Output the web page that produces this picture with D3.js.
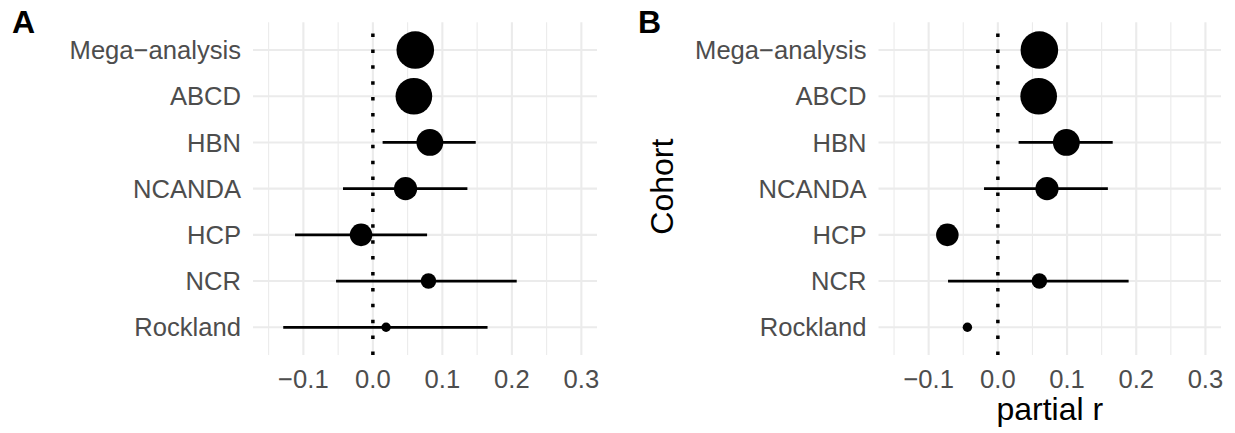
<!DOCTYPE html>
<html>
<head>
<meta charset="utf-8">
<script src="https://cdn.jsdelivr.net/npm/d3@7"></script>
<style>
  html, body { margin: 0; padding: 0; background: #fff; }
  svg { display: block; font-family: "Liberation Sans", Arial, Helvetica, sans-serif; }
</style>
</head>
<body>
<svg id="chart" width="1235" height="433"></svg>
<script>
// Cohorts, top to bottom
const cohorts = ["Mega-analysis", "ABCD", "HBN", "NCANDA", "HCP", "NCR", "Rockland"];
// Relative weight of each cohort (drives point area)
const weight = [100, 95, 51, 38, 36, 17, 6.3];

// Panel A: partial r with confidence interval
const estA  = [0.061, 0.059, 0.082, 0.047, -0.017, 0.080, 0.019];
const lowA  = [0.047, 0.045, 0.014, -0.043, -0.112, -0.053, -0.129];
const highA = [0.075, 0.073, 0.148, 0.136, 0.078, 0.207, 0.165];

// Panel B: partial r with confidence interval (missing where not estimated)
const estB  = [0.060, 0.059, 0.099, 0.071, -0.073, 0.060, -0.044];
const lowB  = [0.046, 0.045, 0.030, -0.020, null, -0.072, null];
const highB = [0.074, 0.073, 0.166, 0.159, null, 0.189, null];

const xMajor = [-0.1, 0.0, 0.1, 0.2, 0.3];
const xMinor = [-0.15, -0.05, 0.05, 0.15, 0.25];
const xLimits = [-0.15, 0.3];

const svg = d3.select("#chart");
const fmt = d3.format(".1f");

const panelTop = 22.3, panelBottom = 355;
const y = d3.scalePoint().domain(cohorts).range([panelTop, panelBottom]).padding(0.6);
const r = d3.scaleSqrt().domain([0, d3.max(weight)]).range([0, 18.8]);

const span = xLimits[1] - xLimits[0];
const xDomain = [xLimits[0] - 0.05 * span, xLimits[1] + 0.05 * span];

function panel(opts) {
  const { left, right, est, low, high, tag, tagX, showTitles } = opts;
  const x = d3.scaleLinear().domain(xDomain).range([left, right]);
  const g = svg.append("g");

  // grid
  g.selectAll(".minor").data(xMinor).join("line")
    .attr("x1", d => x(d)).attr("x2", d => x(d))
    .attr("y1", panelTop).attr("y2", panelBottom)
    .attr("stroke", "#EBEBEB").attr("stroke-width", 1.1);
  g.selectAll(".major").data(xMajor).join("line")
    .attr("x1", d => x(d)).attr("x2", d => x(d))
    .attr("y1", panelTop).attr("y2", panelBottom)
    .attr("stroke", "#EBEBEB").attr("stroke-width", 2.1);
  g.selectAll(".hgrid").data(cohorts).join("line")
    .attr("x1", left).attr("x2", right)
    .attr("y1", d => y(d)).attr("y2", d => y(d))
    .attr("stroke", "#EBEBEB").attr("stroke-width", 2.1);

  // reference line at zero, drawn upward from the bottom
  g.append("line")
    .attr("x1", x(0)).attr("x2", x(0))
    .attr("y1", panelBottom).attr("y2", panelTop)
    .attr("stroke", "#000").attr("stroke-width", 3.5)
    .attr("stroke-dasharray", "3.5 12.4");

  const rows = cohorts.map((c, i) => ({ c, est: est[i], low: low[i], high: high[i], w: weight[i] }));

  // intervals
  g.selectAll(".ci").data(rows.filter(d => d.low != null && d.high != null)).join("line")
    .attr("x1", d => x(d.low)).attr("x2", d => x(d.high))
    .attr("y1", d => y(d.c)).attr("y2", d => y(d.c))
    .attr("stroke", "#000").attr("stroke-width", 2.7);

  // point estimates
  g.selectAll(".pt").data(rows).join("circle")
    .attr("cx", d => x(d.est)).attr("cy", d => y(d.c))
    .attr("r", d => r(d.w)).attr("fill", "#000");

  // y axis labels
  g.selectAll(".ylab").data(cohorts).join("text")
    .attr("x", left - 12).attr("y", d => y(d)).attr("dy", "0.36em")
    .attr("text-anchor", "end").attr("font-size", 25.6).attr("fill", "#4D4D4D")
    .text(d => d.replace("-", "\u2212"));

  // x axis labels
  g.selectAll(".xlab").data(xMajor).join("text")
    .attr("x", d => x(d)).attr("y", 388.3)
    .attr("text-anchor", "middle").attr("font-size", 25.6).attr("fill", "#4D4D4D")
    .text(d => fmt(d));

  // panel tag
  g.append("text").attr("x", tagX).attr("y", 33.3)
    .attr("font-size", 32).attr("font-weight", "bold").attr("fill", "#000")
    .text(tag);

  if (showTitles) {
    g.append("text")
      .attr("transform", `translate(673.3,${(panelTop + panelBottom) / 2 - 2}) rotate(-90)`)
      .attr("text-anchor", "middle").attr("font-size", 32).attr("fill", "#000")
      .text("Cohort");
    g.append("text")
      .attr("x", (left + right) / 2).attr("y", 420)
      .attr("text-anchor", "middle").attr("font-size", 32).attr("fill", "#000")
      .text("partial r");
  }
}

panel({ left: 253, right: 597, est: estA, low: lowA, high: highA, tag: "A", tagX: 12, showTitles: false });
panel({ left: 878.5, right: 1221, est: estB, low: lowB, high: highB, tag: "B", tagX: 638, showTitles: true });
</script>
</body>
</html>
